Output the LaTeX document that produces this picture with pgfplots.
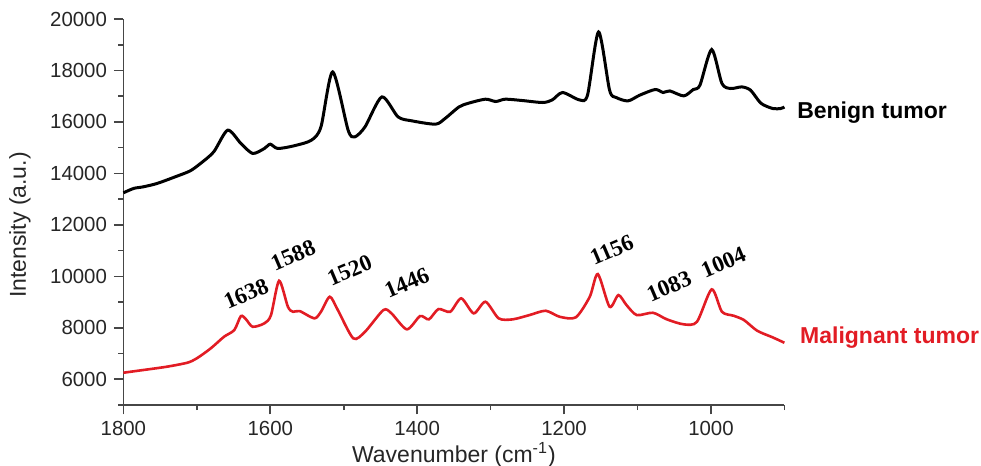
\documentclass[border=0pt]{standalone}
\usepackage{pgfplots}
\pgfplotsset{compat=1.18}
\usepackage{fontspec}
\setmainfont{Liberation Sans}
\newfontfamily\timesfont{Liberation Serif}
\definecolor{specred}{RGB}{226,28,36}
\definecolor{axgray}{RGB}{70,70,70}
\begin{document}
\begin{tikzpicture}
\path[use as bounding box] (-61.7pt,-30.5pt) rectangle (428.8pt,202.5pt);
\begin{axis}[
  scale only axis,
  width=330.5pt, height=193pt,
  at={(0,0)}, anchor=south west,
  x dir=reverse,
  xmin=900, xmax=1800, ymin=5000, ymax=20000,
  axis x line=bottom, axis y line=left,
  axis line style={-, axgray, line width=0.8pt},
  tick align=outside,
  major tick length=4.7pt, minor tick length=2.5pt,
  every tick/.style={axgray, line width=0.8pt},
  xtick={1000,1200,1400,1600,1800},
  minor xtick={900,1100,1300,1500,1700},
  ytick={6000,8000,10000,12000,14000,16000,18000,20000},
  minor ytick={5000,7000,9000,11000,13000,15000,17000,19000},
  scaled y ticks=false, scaled x ticks=false,
  /pgf/number format/assume math mode=true,
  /pgf/number format/1000 sep={},
  tick label style={font=\fontsize{10.2pt}{11pt}\selectfont, text=black!85},
  xlabel={Wavenumber (cm\textsuperscript{-1})},
  ylabel={Intensity (a.u.)},
  every axis x label/.style={at={(axis description cs:0.5,-0.1295)}, anchor=center,
    font=\fontsize{11.5pt}{13pt}\selectfont, text=black!85},
  every axis y label/.style={at={(axis description cs:-0.1564,0.466)}, rotate=90, anchor=center,
    font=\fontsize{11.5pt}{13pt}\selectfont, text=black!85},
  clip=false,
]
\addplot[black, line width=1.5pt, smooth, tension=0.45] coordinates {
(1800,13245) (1786,13416) (1773,13478) (1754,13610) (1727,13893) (1709,14099)
(1695,14386) (1677,14837) (1658,15680) (1640,15163) (1624,14775) (1608,14969)
(1600,15136) (1590,14969) (1568,15070) (1544,15291) (1531,15808) (1515,17944)
(1494,15680) (1485,15420) (1471,15808) (1448,16973) (1426,16196) (1407,16041)
(1375,15913) (1362,16134) (1343,16584) (1330,16728) (1307,16884) (1293,16794)
(1280,16884) (1257,16832) (1229,16755) (1216,16856) (1202,17143) (1179,16856)
(1168,17050) (1153,19497) (1138,17233) (1129,16950) (1113,16817) (1097,17039)
(1076,17260) (1065,17143) (1056,17205) (1037,17011) (1024,17260) (1015,17427)
(999,18813) (985,17493) (973,17299) (958,17361) (946,17233) (932,16728)
(916,16522) (905,16522) (900,16580)
};
\addplot[specred, line width=1.3pt, smooth, tension=0.45] coordinates {
(1800,6254) (1773,6359) (1741,6487) (1713,6643) (1700,6814) (1681,7202)
(1663,7652) (1649,7913) (1640,8456) (1633,8328) (1624,8041) (1608,8173)
(1599,8495) (1588,9827) (1576,8817) (1569,8623) (1560,8650) (1540,8367)
(1531,8623) (1519,9206) (1508,8689) (1487,7590) (1471,7847) (1446,8689)
(1435,8561) (1414,7940) (1396,8456) (1384,8328) (1371,8728) (1355,8623)
(1340,9144) (1323,8561) (1307,9012) (1289,8367) (1270,8328) (1247,8495)
(1225,8662) (1206,8429) (1184,8406) (1165,9206) (1154,10087) (1138,8817)
(1126,9272) (1115,8884) (1101,8495) (1079,8584) (1060,8328) (1037,8134)
(1019,8235) (999,9493) (985,8623) (969,8468) (955,8301) (937,7885)
(916,7629) (900,7419)
};
\begin{scope}[every node/.style={font=\timesfont\bfseries\fontsize{11.5pt}{13pt}\selectfont, rotate=23, inner sep=1pt}]
\node at (axis cs:1633,9311) {1638};
\node at (axis cs:1569,10825) {1588};
\node at (axis cs:1492,10243) {1520};
\node at (axis cs:1414,9738) {1446};
\node at (axis cs:1135,11019) {1156};
\node at (axis cs:1057,9621) {1083};
\node at (axis cs:983,10553) {1004};
\end{scope}
\node[anchor=west, inner sep=0pt, font=\bfseries\fontsize{11.5pt}{13pt}\selectfont] at (axis cs:883,16379) {Benign tumor};
\node[anchor=west, inner sep=0pt, text=specred, font=\bfseries\fontsize{11.5pt}{13pt}\selectfont] at (axis cs:879,7629) {Malignant tumor};
\end{axis}
\end{tikzpicture}
\end{document}
